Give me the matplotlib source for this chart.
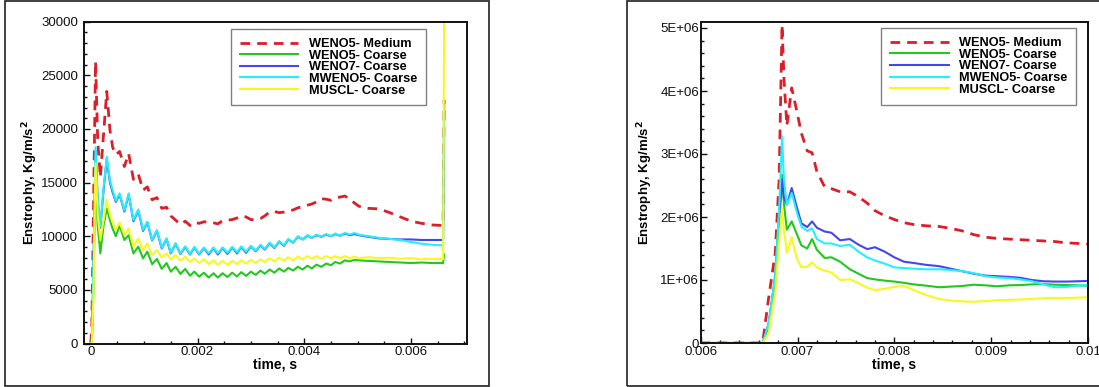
import matplotlib
matplotlib.use("Agg")
import matplotlib.pyplot as plt
from matplotlib.patches import Rectangle
from matplotlib.ticker import MultipleLocator, FuncFormatter

plt.rcParams['font.family'] = ['Liberation Sans', 'DejaVu Sans']

labels = ['WENO5- Medium', 'WENO5- Coarse', 'WENO7- Coarse', 'MWENO5- Coarse', 'MUSCL- Coarse']
colors = ['#dc1e28', '#22c81e', '#4646f0', '#22f0ff', '#f8f820']

# ---- early run, t = 0 .. 0.0066 s ----
t_early = [0.0, 0.00002, 0.00005, 0.00009, 0.00013, 0.00018, 0.00024, 0.0003, 0.00036, 0.00041, 0.00047,
           0.00054, 0.00063, 0.00071, 0.00080, 0.00089, 0.00098, 0.00106, 0.00115, 0.00124, 0.00133,
           0.00142, 0.00150, 0.00159, 0.00168, 0.00177, 0.00186, 0.00194, 0.00203, 0.00212, 0.00221,
           0.00230, 0.00238, 0.00247, 0.00256, 0.00265, 0.00274, 0.00282, 0.00291, 0.00300, 0.00309,
           0.00318, 0.00326, 0.00335, 0.00344, 0.00353, 0.00362, 0.00370, 0.00379, 0.00388, 0.00397,
           0.00406, 0.00414, 0.00423, 0.00432, 0.00441, 0.00450, 0.00458, 0.00467, 0.00476, 0.00485,
           0.00494, 0.00502,
           0.0052, 0.0054, 0.0056, 0.0058, 0.0060, 0.0062, 0.0064, 0.0066, 0.00662]

weno5_medium_early = [0, 1500, 12000, 26300, 19000, 15500, 19500, 23500, 19900, 18300, 17600,
                      17900, 16500, 17700, 15300, 15800, 14300, 14600, 13400, 13600, 12600,
                      12700, 11900, 11500, 11100, 11400, 11000, 11300, 11200, 11350, 11300,
                      11250, 11150, 11450, 11500, 11550, 11700, 11900, 11800, 11550, 11550,
                      11650, 11900, 12250, 12300, 12200, 12250, 12350, 12450, 12650, 12750,
                      12900, 13000, 13200, 13500, 13450, 13350, 13550, 13650, 13750, 13500,
                      13100, 12800,
                      12600, 12550, 12200, 11800, 11400, 11200, 11050, 11000, 22700]
weno5_coarse_early = [0, 0, 5000, 15800, 11000, 8400, 11000, 12600, 11500, 10700, 10000,
                      11000, 9650, 10100, 8400, 9030, 7940, 8560, 7400, 7880, 6960,
                      7500, 6700, 7150, 6480, 6950, 6320, 6700, 6230, 6600, 6150,
                      6550, 6150, 6550, 6200, 6600, 6250, 6650, 6300, 6700, 6400,
                      6800, 6500, 6900, 6600, 7000, 6700, 7050, 6800, 7150, 6900,
                      7250, 7000, 7350, 7150, 7450, 7300, 7600, 7450, 7750, 7650,
                      7800, 7750,
                      7700, 7650, 7600, 7550, 7500, 7550, 7500, 7500, 8300]
weno7_coarse_early = [0, 0, 6800, 18000, 13300, 10800, 14300, 17200, 15000, 14100, 13200,
                      13900, 12300, 13900, 11400, 12400, 10500, 11300, 9600, 10500, 8850,
                      9750, 8400, 9300, 8350, 9000, 8300, 8950, 8300, 8900, 8300,
                      8900, 8300, 8900, 8350, 8950, 8400, 9000, 8450, 9050, 8600,
                      9150, 8750, 9350, 8900, 9500, 9100, 9700, 9400, 9950, 9700,
                      10050, 9850, 10100, 9950, 10150, 10000, 10200, 10050, 10250, 10100,
                      10200, 10100,
                      9950, 9800, 9750, 9700, 9700, 9650, 9650, 9650, 22300]
mweno5_coarse_early = [0, 0, 7000, 18300, 13500, 10900, 14500, 17400, 15200, 14300, 13300,
                       14000, 12400, 14000, 11500, 12500, 10600, 11350, 9650, 10580, 8900,
                       9800, 8450, 9350, 8400, 9050, 8350, 9000, 8350, 8950, 8400,
                       8950, 8400, 8950, 8450, 9000, 8500, 9050, 8550, 9100, 8650,
                       9200, 8800, 9400, 8950, 9550, 9150, 9750, 9400, 10000, 9700,
                       10100, 9850, 10150, 9950, 10200, 10000, 10250, 10050, 10300, 10150,
                       10300, 10150,
                       10000, 9850, 9750, 9650, 9450, 9300, 9200, 9150, 22000]
muscl_coarse_early = [0, 0, 4000, 16800, 12000, 9650, 11500, 13400, 12000, 11300, 10600,
                      11300, 10100, 10730, 9030, 9800, 8710, 9340, 8250, 8710, 8030,
                      8400, 7840, 8250, 7690, 8100, 7600, 7950, 7500, 7850, 7400,
                      7750, 7350, 7700, 7350, 7700, 7400, 7750, 7450, 7800, 7500,
                      7850, 7600, 7950, 7650, 8000, 7700, 8050, 7750, 8100, 7850,
                      8150, 7900, 8150, 7900, 8150, 7950, 8150, 7950, 8150, 7950,
                      8100, 7950,
                      8050, 7950, 8000, 7900, 7950, 7850, 7900, 7850, 31000]

# ---- later run, t = 0.006 .. 0.01 s ----
t_late = [0.006, 0.0066, 0.00664, 0.00670, 0.00677, 0.00681, 0.00684, 0.00686, 0.00689, 0.00694,
          0.00699, 0.00704, 0.00710, 0.00715, 0.00720, 0.00728, 0.00735, 0.00744, 0.00754, 0.00763,
          0.00772, 0.00780, 0.00790, 0.00800, 0.00810, 0.00820, 0.00833, 0.00846, 0.00858, 0.00870,
          0.00882, 0.00894, 0.00906, 0.00918, 0.00930, 0.00942, 0.00954, 0.00966, 0.00978, 0.00990,
          0.0100]

weno5_medium_late = [0, 0, 0, 0.70e6, 1.43e6, 2.60e6, 5.05e6, 4.20e6, 3.45e6, 4.05e6,
                     3.70e6, 3.33e6, 3.05e6, 3.02e6, 2.72e6, 2.48e6, 2.45e6, 2.40e6, 2.40e6, 2.32e6,
                     2.22e6, 2.10e6, 2.02e6, 1.96e6, 1.91e6, 1.88e6, 1.86e6, 1.85e6, 1.82e6, 1.78e6,
                     1.72e6, 1.68e6, 1.66e6, 1.65e6, 1.64e6, 1.63e6, 1.62e6, 1.61e6, 1.59e6, 1.58e6,
                     1.57e6]
weno5_coarse_late = [0, 0, 0, 0.25e6, 1.10e6, 2.10e6, 2.67e6, 2.20e6, 1.80e6, 1.93e6,
                     1.74e6, 1.55e6, 1.50e6, 1.65e6, 1.48e6, 1.35e6, 1.36e6, 1.29e6, 1.17e6, 1.10e6,
                     1.03e6, 1.01e6, 0.99e6, 0.975e6, 0.955e6, 0.93e6, 0.91e6, 0.885e6, 0.895e6, 0.905e6,
                     0.925e6, 0.915e6, 0.90e6, 0.915e6, 0.92e6, 0.93e6, 0.935e6, 0.925e6, 0.92e6, 0.915e6,
                     0.91e6]
weno7_coarse_late = [0, 0, 0, 0.30e6, 1.00e6, 1.90e6, 2.60e6, 2.30e6, 2.20e6, 2.46e6,
                     2.17e6, 1.90e6, 1.84e6, 1.93e6, 1.83e6, 1.77e6, 1.75e6, 1.63e6, 1.65e6, 1.56e6,
                     1.49e6, 1.52e6, 1.45e6, 1.36e6, 1.29e6, 1.27e6, 1.24e6, 1.22e6, 1.18e6, 1.14e6,
                     1.10e6, 1.07e6, 1.06e6, 1.05e6, 1.035e6, 1.00e6, 0.98e6, 0.975e6, 0.975e6, 0.98e6,
                     0.985e6]
mweno5_coarse_late = [0, 0, 0, 0.30e6, 1.05e6, 2.10e6, 3.28e6, 2.59e6, 2.19e6, 2.38e6,
                      2.09e6, 1.85e6, 1.78e6, 1.82e6, 1.65e6, 1.58e6, 1.58e6, 1.54e6, 1.56e6, 1.45e6,
                      1.36e6, 1.31e6, 1.26e6, 1.20e6, 1.19e6, 1.18e6, 1.17e6, 1.17e6, 1.16e6, 1.14e6,
                      1.11e6, 1.06e6, 1.04e6, 1.03e6, 1.01e6, 0.98e6, 0.93e6, 0.885e6, 0.89e6, 0.91e6,
                      0.92e6]
muscl_coarse_late = [0, 0, 0, 0.15e6, 0.80e6, 1.60e6, 2.15e6, 1.80e6, 1.43e6, 1.68e6,
                     1.35e6, 1.20e6, 1.21e6, 1.28e6, 1.20e6, 1.15e6, 1.12e6, 1.00e6, 1.01e6, 0.95e6,
                     0.88e6, 0.84e6, 0.86e6, 0.89e6, 0.905e6, 0.84e6, 0.76e6, 0.70e6, 0.675e6, 0.66e6,
                     0.655e6, 0.665e6, 0.68e6, 0.685e6, 0.69e6, 0.70e6, 0.71e6, 0.715e6, 0.715e6, 0.72e6,
                     0.725e6]

early_series = [weno5_medium_early, weno5_coarse_early, weno7_coarse_early,
                mweno5_coarse_early, muscl_coarse_early]
late_series = [weno5_medium_late, weno5_coarse_late, weno7_coarse_late,
               mweno5_coarse_late, muscl_coarse_late]

W, H = 1099, 387
fig = plt.figure(figsize=(W / 100, H / 100), dpi=100)


def px_box(x0, y0, x1, y1):
    # pixel box (top-left origin) -> figure fraction rect
    return [x0 / W, (H - y1) / H, (x1 - x0) / W, (y1 - y0) / H]


# frames around each panel
fig.add_artist(Rectangle((5.3 / W, 0.6 / H), (489 - 5.3) / W, (386 - 0.6) / H,
                         transform=fig.transFigure, fill=False, ec='#202020', lw=1.2))
fig.add_artist(Rectangle((626.7 / W, 0.6 / H), 0.5, (386 - 0.6) / H,
                         transform=fig.transFigure, fill=False, ec='#202020', lw=1.2))

ax1 = fig.add_axes(px_box(83.8, 21.7, 467.1, 343.5))
ax2 = fig.add_axes(px_box(700.7, 21.7, 1088.0, 343.0))


def draw(ax, t, series):
    for vals, c, lab in zip(series, colors, labels):
        if lab == 'WENO5- Medium':
            ax.plot(t, vals, color=c, lw=2.0, ls=(0, (3.5, 2.5)), label=lab)
        else:
            ax.plot(t, vals, color=c, lw=1.5, label=lab)


draw(ax1, t_early, early_series)
draw(ax2, t_late, late_series)

ax1.set_xlim(-0.00013, 0.00705)
ax1.set_ylim(0, 30000)
ax1.xaxis.set_major_locator(MultipleLocator(0.002))
ax1.xaxis.set_minor_locator(MultipleLocator(0.0005))
ax1.yaxis.set_major_locator(MultipleLocator(5000))
ax1.yaxis.set_minor_locator(MultipleLocator(1000))
ax1.xaxis.set_major_formatter(FuncFormatter(lambda v, p: '0' if abs(v) < 1e-12 else f'{v:.3f}'))
ax1.yaxis.set_major_formatter(FuncFormatter(lambda v, p: f'{v:.0f}'))

ax2.set_xlim(0.006, 0.01)
ax2.set_ylim(0, 5.1e6)
ax2.xaxis.set_major_locator(MultipleLocator(0.001))
ax2.xaxis.set_minor_locator(MultipleLocator(0.0002))
ax2.yaxis.set_major_locator(MultipleLocator(1e6))
ax2.yaxis.set_minor_locator(MultipleLocator(2e5))
ax2.xaxis.set_major_formatter(FuncFormatter(lambda v, p: f'{v:.3f}'.rstrip('0') if v < 0.0099 else '0.01'))
ax2.yaxis.set_major_formatter(FuncFormatter(lambda v, p: '0' if v == 0 else f'{v / 1e6:.0f}E+06'))

# y-label anchor in axes fraction
ylabel_x = {ax1: -0.114, ax2: -0.118}
for ax, ypad in ((ax1, 4.0), (ax2, 1.0)):
    for sp in ax.spines.values():
        sp.set_linewidth(1.4)
        sp.set_color('#101010')
    ax.tick_params(which='both', direction='in', top=False, right=False, width=1.0,
                   colors='#101010', labelsize=9.5)
    ax.tick_params(which='major', length=4.5)
    ax.tick_params(which='minor', length=2.5)
    ax.tick_params(axis='x', pad=2.0)
    ax.tick_params(axis='y', pad=ypad)
    ax.set_xlabel('time, s', fontsize=10, fontweight='bold', labelpad=-0.5)
    ax.set_ylabel('Enstrophy, Kg/m/s$^\\mathbf{2}$', fontsize=9.5, fontweight='bold')
    ax.yaxis.set_label_coords(ylabel_x[ax], 0.5)

legend_anchor = {ax1: (0.383, 0.977), ax2: (0.465, 0.9795)}
for ax in (ax1, ax2):
    leg = ax.legend(loc='upper left', bbox_to_anchor=legend_anchor[ax], borderaxespad=0,
                    fancybox=False, edgecolor='#808080', framealpha=1,
                    handlelength=4.6, handletextpad=0.8, labelspacing=-0.03, borderpad=0.7,
                    prop={'weight': 'bold', 'size': 9.2})
    leg.get_frame().set_linewidth(1.0)

fig.savefig('out.png', dpi=100)
